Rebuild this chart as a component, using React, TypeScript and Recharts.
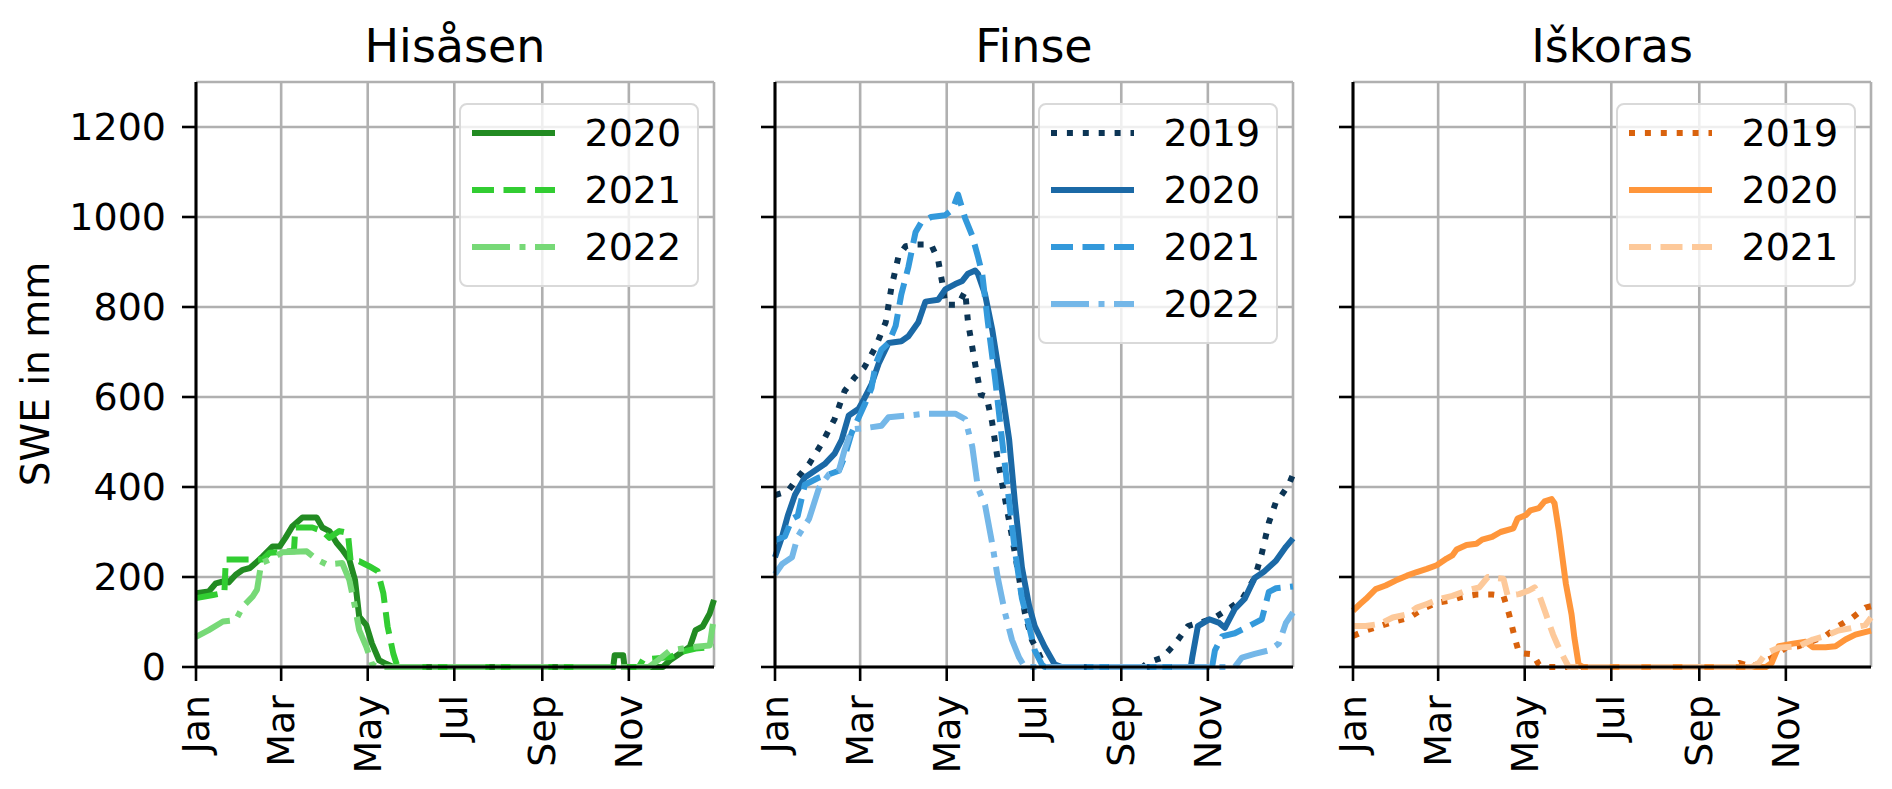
import React from 'react';
import { LineChart, Line, XAxis, YAxis, CartesianGrid, Legend } from 'recharts';

// day of year (leap year axis, 0 = Jan 1) and SWE in mm
const monthTicks = [0, 60, 121, 182, 244, 305];
const monthLabels = ['Jan', 'Mar', 'May', 'Jul', 'Sep', 'Nov'];
const sweTicks = [0, 200, 400, 600, 800, 1000, 1200];

const hisasen2020 = [
  [0, 164], [9, 168], [14, 186], [19, 190], [23, 188], [28, 205], [33, 216], [38, 220], [42, 231],
  [47, 246], [54, 268], [59, 268], [63, 287], [68, 313], [75, 332], [85, 332], [89, 310], [94, 302],
  [99, 276], [103, 261], [108, 239], [112, 194], [115, 112], [120, 93], [124, 52], [129, 15], [134, 7],
  [139, 0], [294, 0], [295, 26], [301, 26], [302, 0], [329, 0], [334, 15], [341, 30], [348, 45],
  [352, 82], [357, 90], [362, 119], [365, 149],
];
const hisasen2021 = [
  [0, 153], [12, 160], [20, 165], [21, 239], [47, 239], [52, 254], [66, 257], [69, 257], [70, 310],
  [82, 310], [89, 302], [94, 287], [101, 302], [107, 298], [109, 235], [115, 235], [122, 224],
  [128, 213], [132, 164], [135, 90], [139, 30], [142, 0], [312, 0], [315, 16], [324, 19], [334, 22],
  [343, 34], [352, 41], [365, 45],
];
const hisasen2022 = [
  [0, 67], [9, 82], [19, 101], [28, 104], [33, 134], [40, 157], [43, 172], [46, 231], [52, 239],
  [61, 255], [78, 257], [85, 239], [92, 228], [103, 231], [108, 194], [112, 134], [115, 82], [120, 45],
  [124, 7], [127, 0], [319, 0], [324, 11], [334, 37], [343, 41], [352, 45], [362, 48], [365, 112],
];

const finse2019 = [
  [0, 382], [9, 390], [16, 421], [24, 451], [33, 497], [42, 551], [49, 613], [56, 643], [63, 666],
  [71, 712], [78, 766], [82, 843], [87, 912], [92, 935], [99, 939], [110, 939], [115, 904], [118, 851],
  [120, 805], [129, 805], [134, 835], [136, 766], [141, 674], [145, 605], [149, 601], [153, 544],
  [157, 459], [162, 375], [167, 290], [172, 198], [176, 121], [181, 60], [186, 29], [190, 0], [259, 0],
  [263, 10], [273, 21], [282, 52], [291, 91], [301, 100], [310, 110], [320, 130], [329, 150],
  [338, 198], [343, 252], [348, 321], [353, 367], [357, 382], [362, 405], [365, 428],
];
const finse2020 = [
  [0, 244], [5, 290], [9, 336], [14, 382], [21, 421], [28, 436], [35, 451], [42, 474], [47, 505],
  [52, 559], [59, 574], [63, 597], [68, 628], [73, 674], [80, 720], [89, 724], [94, 735], [101, 766],
  [106, 812], [115, 816], [120, 839], [127, 851], [132, 858], [136, 874], [141, 881], [143, 874],
  [148, 828], [153, 751], [160, 613], [165, 505], [169, 367], [174, 221], [179, 137], [183, 91],
  [190, 45], [197, 6], [202, 0], [293, 0], [294, 21], [298, 91], [306, 106], [313, 98], [317, 87],
  [324, 129], [331, 152], [338, 198], [345, 213], [353, 236], [360, 267], [365, 286],
];
const finse2021 = [
  [0, 282], [7, 290], [12, 329], [16, 336], [21, 405], [31, 421], [38, 428], [45, 436], [49, 467],
  [54, 520], [63, 582], [68, 620], [71, 674], [75, 705], [80, 720], [85, 758], [89, 828], [94, 889],
  [99, 966], [103, 988], [110, 1000], [120, 1004], [125, 1016], [129, 1050], [134, 997], [139, 958],
  [143, 912], [146, 874], [150, 766], [155, 643], [160, 505], [165, 367], [169, 260], [174, 152],
  [179, 91], [183, 37], [188, 6], [190, 0], [308, 0], [310, 37], [315, 68], [324, 75], [334, 91],
  [343, 106], [348, 167], [353, 175], [365, 179],
];
const finse2022 = [
  [0, 206], [5, 229], [12, 244], [16, 290], [24, 329], [31, 398], [38, 428], [45, 436], [49, 482],
  [54, 528], [66, 532], [75, 536], [80, 555], [94, 559], [106, 563], [127, 563], [134, 551], [139, 490],
  [143, 398], [148, 360], [153, 275], [157, 198], [162, 121], [167, 60], [172, 21], [176, 0], [324, 0],
  [329, 21], [338, 29], [348, 37], [355, 52], [360, 98], [365, 121],
];

const iskoras2019 = [
  [0, 69], [9, 81], [19, 91], [30, 102], [40, 110], [49, 129], [59, 143], [68, 147], [77, 156],
  [87, 161], [98, 161], [106, 158], [110, 117], [114, 65], [117, 31], [127, 28], [131, 5], [136, 0],
  [267, 0], [272, 9], [281, 1], [295, 20], [305, 43], [314, 46], [324, 58], [333, 69], [342, 91],
  [352, 110], [361, 132], [365, 135],
];
const iskoras2020 = [
  [0, 125], [5, 140], [9, 151], [16, 173], [23, 181], [30, 192], [38, 203], [45, 211], [52, 218],
  [59, 226], [66, 241], [70, 248], [73, 261], [80, 271], [87, 274], [91, 283], [98, 289], [104, 300],
  [113, 308], [116, 330], [122, 338], [125, 348], [131, 353], [135, 368], [140, 373], [142, 364],
  [145, 304], [150, 185], [154, 117], [156, 65], [159, 5], [162, 0], [291, 0], [295, 9], [300, 46],
  [310, 52], [319, 56], [324, 44], [333, 44], [340, 46], [347, 61], [354, 72], [365, 81],
];
const iskoras2021 = [
  [0, 91], [9, 91], [19, 96], [28, 110], [38, 117], [45, 132], [52, 140], [61, 151], [70, 158],
  [80, 170], [89, 177], [95, 200], [106, 196], [109, 158], [117, 162], [124, 170], [128, 177],
  [131, 162], [136, 117], [141, 72], [144, 50], [148, 24], [152, 0], [281, 0], [286, 9], [291, 31],
  [300, 43], [314, 46], [324, 61], [333, 69], [342, 81], [352, 87], [361, 93], [365, 110],
];

const DASH: Record<string, string | undefined> = {
  solid: undefined,
  dashed: '22 9.5',
  dotted: '6 9.9',
  dashdot: '38 9.5 6 9.5',
};

type Series = { year: string; points: number[][]; color: string; dash: string };

const panels: { title: string; series: Series[] }[] = [
  {
    title: 'Hisåsen',
    series: [
      { year: '2020', points: hisasen2020, color: '#228b22', dash: 'solid' },
      { year: '2021', points: hisasen2021, color: '#32cd32', dash: 'dashed' },
      { year: '2022', points: hisasen2022, color: '#77d977', dash: 'dashdot' },
    ],
  },
  {
    title: 'Finse',
    series: [
      { year: '2019', points: finse2019, color: '#0c3555', dash: 'dotted' },
      { year: '2020', points: finse2020, color: '#1b69a6', dash: 'solid' },
      { year: '2021', points: finse2021, color: '#3399db', dash: 'dashed' },
      { year: '2022', points: finse2022, color: '#74b7e8', dash: 'dashdot' },
    ],
  },
  {
    title: 'Iškoras',
    series: [
      { year: '2019', points: iskoras2019, color: '#d9620d', dash: 'dotted' },
      { year: '2020', points: iskoras2020, color: '#ff963b', dash: 'solid' },
      { year: '2021', points: iskoras2021, color: '#fdc99a', dash: 'dashed' },
    ],
  },
];

const plotLefts = [196, 775, 1353];
const PLOT_W = 518;
const PLOT_TOP = 82;
const FIG_H = 789;
const AXIS_W = 196;
const CHART_W = AXIS_W + PLOT_W + 6;
const LINE_W = 6;

const MonthTick = (props: any) => {
  const { x, y, payload } = props;
  const label = monthLabels[monthTicks.indexOf(payload.value)];
  return (
    <text
      x={x}
      y={y}
      transform={`rotate(-90 ${x} ${y})`}
      textAnchor="end"
      dominantBaseline="central"
      fontSize={38}
      fill="#000"
    >
      {label}
    </text>
  );
};

const LegendBox = ({ series }: { series: Series[] }) => {
  const border = 2.5;
  const rowGap = 57;
  const height = 38 + rowGap * series.length - 27 + 2;
  return (
    <div
      style={{
        position: 'relative',
        boxSizing: 'border-box',
        width: 240,
        height,
        border: `${border}px solid #d9d9d9`,
        borderRadius: 8,
        background: 'rgba(255,255,255,0.8)',
      }}
    >
      {series.map((s, i) => {
        const cy = 30 + rowGap * i - border;
        return (
          <React.Fragment key={s.year}>
            <svg
              width={83}
              height={12}
              style={{ position: 'absolute', left: 13 - border, top: cy - 6 }}
            >
              <line
                x1={0}
                x2={83}
                y1={6}
                y2={6}
                stroke={s.color}
                strokeWidth={LINE_W}
                strokeDasharray={DASH[s.dash]}
              />
            </svg>
            <div
              style={{
                position: 'absolute',
                left: 126 - border,
                top: cy - 18.5,
                fontSize: 38,
                lineHeight: '38px',
                color: '#000',
              }}
            >
              {s.year}
            </div>
          </React.Fragment>
        );
      })}
    </div>
  );
};

function Panel({ index }: { index: number }) {
  const panel = panels[index];
  const first = index === 0;
  return (
    <div style={{ position: 'absolute', left: plotLefts[index] - AXIS_W, top: 0 }}>
      <LineChart width={CHART_W} height={FIG_H} margin={{ top: PLOT_TOP, right: 6, bottom: 0, left: 0 }}>
        <CartesianGrid stroke="#b0b0b0" strokeWidth={2.6} />
        <XAxis
          dataKey="d"
          type="number"
          domain={[0, 365]}
          ticks={monthTicks}
          height={FIG_H - 667}
          tickSize={14}
          tickMargin={14}
          tick={MonthTick}
          axisLine={{ stroke: '#000', strokeWidth: 3 }}
          tickLine={{ stroke: '#000', strokeWidth: 2.6 }}
          allowDuplicatedCategory={false}
        />
        <XAxis
          xAxisId="top"
          orientation="top"
          type="number"
          domain={[0, 365]}
          height={0}
          tick={false}
          tickLine={false}
          axisLine={{ stroke: '#000', strokeWidth: 3 }}
        />
        <YAxis
          type="number"
          domain={[0, 1300]}
          ticks={sweTicks}
          width={AXIS_W}
          tickSize={14}
          tickMargin={16}
          tick={first ? { fontSize: 38, fill: '#000' } : () => <g />}
          axisLine={{ stroke: '#000', strokeWidth: 3 }}
          tickLine={{ stroke: '#000', strokeWidth: 2.6 }}
          label={
            first
              ? {
                  content: () => (
                    <text
                      x={35}
                      y={374}
                      transform="rotate(-90 35 374)"
                      textAnchor="middle"
                      dominantBaseline="central"
                      fontSize={39}
                      fill="#000"
                    >
                      SWE in mm
                    </text>
                  ),
                }
              : undefined
          }
        />
        <YAxis
          yAxisId="right"
          orientation="right"
          type="number"
          domain={[0, 1300]}
          width={0}
          tick={false}
          tickLine={false}
          axisLine={{ stroke: '#000', strokeWidth: 3 }}
        />
        {panel.series.map((s) => (
          <Line
            key={s.year}
            name={s.year}
            data={s.points.map(([d, v]) => ({ d, v }))}
            dataKey="v"
            type="linear"
            stroke={s.color}
            strokeWidth={LINE_W}
            strokeDasharray={DASH[s.dash]}
            strokeLinejoin="round"
            dot={false}
            activeDot={false}
            isAnimationActive={false}
          />
        ))}
        <Legend
          layout="vertical"
          align="center"
          verticalAlign="middle"
          wrapperStyle={{ left: AXIS_W + 263, top: 103, width: 240, margin: 0 }}
          content={() => <LegendBox series={panel.series} />}
        />
      </LineChart>
    </div>
  );
}

export default function App() {
  return (
    <div
      style={{
        position: 'absolute',
        left: 0,
        top: 0,
        width: 1892,
        height: FIG_H,
        background: '#fff',
        fontFamily: '"DejaVu Sans", sans-serif',
        overflow: 'hidden',
      }}
    >
      {panels.map((p, i) => (
        <div
          key={p.title}
          style={{
            position: 'absolute',
            left: plotLefts[i],
            top: 23,
            width: PLOT_W,
            textAlign: 'center',
            fontSize: 46,
            lineHeight: '46px',
            color: '#000',
          }}
        >
          {p.title}
        </div>
      ))}
      {panels.map((p, i) => (
        <Panel key={p.title} index={i} />
      ))}
    </div>
  );
}
